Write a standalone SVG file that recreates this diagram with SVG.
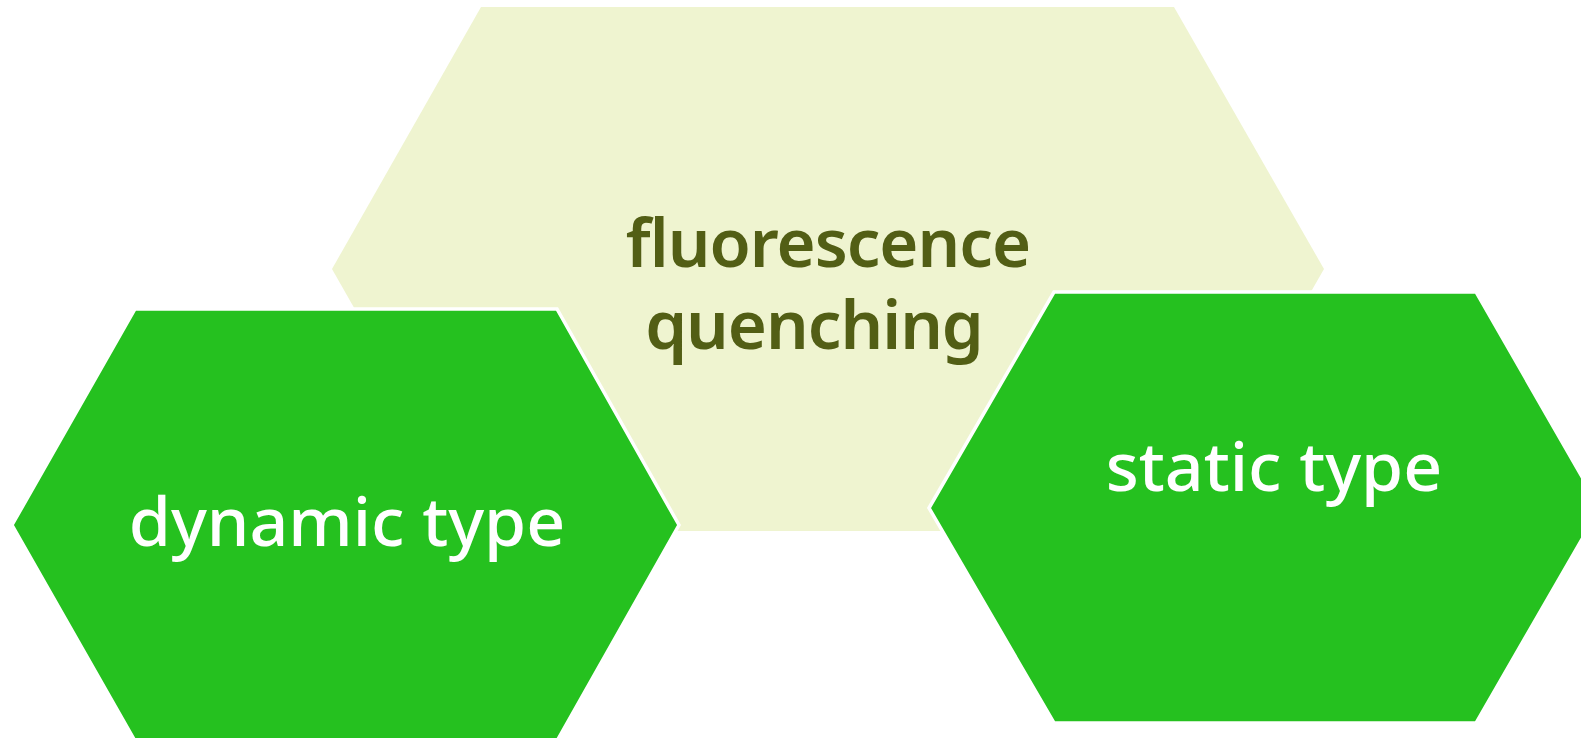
<svg xmlns="http://www.w3.org/2000/svg" width="1581" height="738" viewBox="0 0 1581 738">
<style>
.light{fill:#EFF4D0;}
.green{fill:#25C11F;stroke:#FFFFFF;stroke-width:3.5;}
.t{font-family:"Noto Sans","Open Sans","Liberation Sans",sans-serif;text-anchor:middle;}
.dark{fill:#525E15;font-size:67px;font-weight:600;letter-spacing:-1px;}
.white{fill:#FFFFFF;font-size:68px;font-weight:500;}
</style>
<rect width="1581" height="738" fill="#FFFFFF"/>
<g id="node-fluorescence">
<polygon class="light" points="332,269 481,7 1174,7 1324,269 1174,531 481,531"/>
<text class="t dark" x="828" y="267">fluorescence</text>
<text class="t dark" x="814" y="349">quenching</text>
</g>
<g id="node-dynamic">
<polygon class="green" points="12,525 135,309 557,309 679,525 557,741 135,741"/>
<text class="t white" x="347" y="546">dynamic type</text>
</g>
<g id="node-static">
<polygon class="green" points="929,508 1054,292 1476,292 1600,508 1476,723 1054,723"/>
<text class="t white" x="1274" y="491">static type</text>
</g>
<g id="connectors"></g>
</svg>
